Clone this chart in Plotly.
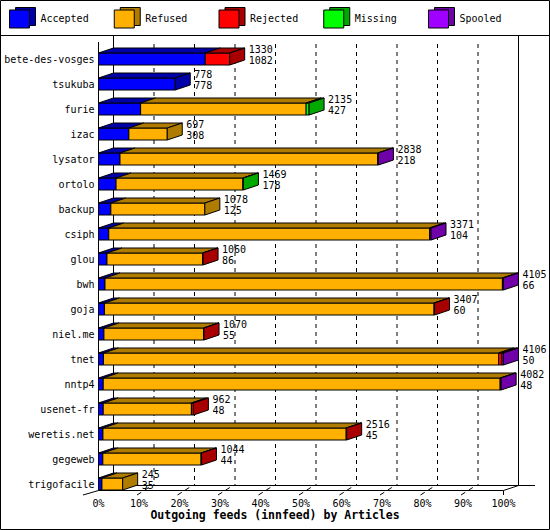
import plotly.graph_objects as go

# ---------------- data ----------------
hosts = ["bete-des-vosges", "tsukuba", "furie", "izac", "lysator", "ortolo", "backup",
         "csiph", "glou", "bwh", "goja", "niel.me", "tnet", "nntp4", "usenet-fr",
         "weretis.net", "gegeweb", "trigofacile"]
totals = [1330, 778, 2135, 697, 2838, 1469, 1078, 3371, 1060, 4105, 3407, 1070,
          4106, 4082, 962, 2516, 1044, 245]
accepted = [1082, 778, 427, 308, 218, 178, 125, 104, 86, 66, 60, 55, 50, 48, 48, 45, 44, 35]
refused = [0, 0, 1678, 389, 2612, 1286, 953, 3252, 970, 4029, 3342, 1010, 4006, 4024, 894, 2466, 996, 210]
rejected = [248, 0, 0, 0, 0, 0, 0, 0, 4, 0, 5, 5, 35, 0, 20, 5, 4, 0]
missing = [0, 0, 30, 0, 0, 5, 0, 0, 0, 0, 0, 0, 0, 0, 0, 0, 0, 0]
spooled = [0, 0, 0, 0, 8, 0, 0, 15, 0, 10, 0, 0, 15, 10, 0, 0, 0, 0]

series_names = ["Accepted", "Refused", "Rejected", "Missing", "Spooled"]
series_values = [accepted, refused, rejected, missing, spooled]
front_colors = ["#0000FF", "#FFB000", "#FF0000", "#00FF00", "#A000FF"]
shade_colors = ["#0000A8", "#B07C00", "#A80000", "#00A800", "#7000A8"]
x_ticks = [0, 10, 20, 30, 40, 50, 60, 70, 80, 90, 100]
x_title = "Outgoing feeds (innfeed) by Articles"

# ---------------- geometry (pixels) ----------------
W, H = 550, 530
X0, PXPCT = 98.5, 4.05      # x pixel of 0 %, pixels per percent
ROW0, ROWH = 59, 25         # y pixel of first bar centre, row pitch
BARH, DXP, DYP = 12, 15, 5  # bar height, 3D depth offsets
FONT = "DejaVu Sans Mono"


def X(px):
    return (px - X0) / PXPCT


def Y(py):
    return (py - ROW0) / ROWH


dx = DXP / PXPCT
dy = DYP / ROWH
hh = BARH / 2 / ROWH
vmax = max(totals)


def pct(v):
    return v / vmax * 100.0


fig = go.Figure()

# ---------------- bars (3D faces) ----------------
faces = {k: {"front": ([], []), "top": ([], []), "side": ([], [])} for k in range(5)}
for i in range(len(hosts)):
    vals = [s[i] for s in series_values]
    last = max(k for k in range(5) if vals[k] > 0)
    cum = 0
    yt, yb = i - hh, i + hh
    for k in range(5):
        if vals[k] <= 0:
            continue
        a, b = pct(cum), pct(cum + vals[k])
        cum += vals[k]
        fx, fy = faces[k]["front"]
        fx += [a, b, b, a, a, None]
        fy += [yt, yt, yb, yb, yt, None]
        tx, ty = faces[k]["top"]
        tx += [a, b, b + dx, a + dx, a, None]
        ty += [yt, yt, yt - dy, yt - dy, yt, None]
        if k == last:
            sx, sy = faces[k]["side"]
            sx += [b, b + dx, b + dx, b, b, None]
            sy += [yt, yt - dy, yb - dy, yb, yt, None]

for face in ["front", "top", "side"]:
    for k in range(5):
        xs, ys = faces[k][face]
        if not xs:
            continue
        fig.add_trace(go.Scatter(
            x=xs, y=ys, mode="lines", fill="toself",
            fillcolor=front_colors[k] if face == "front" else shade_colors[k],
            line=dict(color="black", width=1), hoverinfo="skip",
            showlegend=False, name=series_names[k]))

# ---------------- value labels ----------------
lab_x = [pct(t) + dx + X(X0 + 4) for t in totals]
fig.add_trace(go.Scatter(
    x=lab_x, y=[i - 0.36 for i in range(len(hosts))], mode="text",
    text=[str(t) for t in totals], textposition="middle right",
    textfont=dict(family=FONT, size=10, color="black"),
    hoverinfo="skip", showlegend=False))
fig.add_trace(go.Scatter(
    x=lab_x, y=[i + 0.08 for i in range(len(hosts))], mode="text",
    text=[str(a) for a in accepted], textposition="middle right",
    textfont=dict(family=FONT, size=10, color="black"),
    hoverinfo="skip", showlegend=False))

# ---------------- legend (cubes) ----------------
LEG_X0, LEG_STEP = 9.5, 104.75
for k in range(5):
    xl = LEG_X0 + LEG_STEP * k
    x1, x2, x3 = X(xl), X(xl + 20), X(xl + 26)
    x0b = X(xl + 6)
    y1, y2, yb1, yb2 = Y(10), Y(28), Y(7.5), Y(25.5)
    fig.add_trace(go.Scatter(x=[x0b, x3, x3, x0b, x0b], y=[yb1, yb1, yb2, yb2, yb1],
                             mode="lines", fill="toself", fillcolor=shade_colors[k],
                             line=dict(color="black", width=1), hoverinfo="skip", showlegend=False))
    fig.add_trace(go.Scatter(x=[x1, x2, x2, x1, x1], y=[y1, y1, y2, y2, y1],
                             mode="lines", fill="toself", fillcolor=front_colors[k],
                             line=dict(color="black", width=1), hoverinfo="skip", showlegend=False))
    fig.add_trace(go.Scatter(x=[X(xl + 31)], y=[Y(19.5)], mode="text", text=[series_names[k]],
                             textposition="middle right",
                             textfont=dict(family=FONT, size=10, color="black"),
                             hoverinfo="skip", showlegend=False))

# ---------------- frame, walls, grid ----------------
shapes = []
line = dict(color="black", width=1)
shapes.append(dict(type="rect", xref="x", yref="y", x0=X(0.5), x1=X(549.5), y0=Y(0.5), y1=Y(529.5), line=line))
shapes.append(dict(type="line", xref="x", yref="y", x0=X(0), x1=X(550), y0=Y(35.5), y1=Y(35.5), line=line))
wall_top, grid_top, floor_back, floor_front = 36, 44, 485.5, 490.5
for v in x_ticks[1:-1]:
    gx = pct(0) + v + dx
    shapes.append(dict(type="line", xref="x", yref="y", x0=gx, x1=gx, y0=Y(grid_top), y1=Y(floor_back),
                       line=dict(color="black", width=1, dash="4px,4px"), layer="below"))
    shapes.append(dict(type="line", xref="x", yref="y", x0=v + X(X0 - 2), x1=v + X(X0 + 13),
                       y0=Y(495), y1=Y(floor_back),
                       line=dict(color="black", width=1, dash="5px,4px"), layer="below"))
for gx in [dx, 100 + dx]:
    shapes.append(dict(type="line", xref="x", yref="y", x0=gx, x1=gx, y0=Y(wall_top), y1=Y(floor_back),
                       line=line, layer="below"))
shapes.append(dict(type="line", xref="x", yref="y", x0=dx, x1=X(535), y0=Y(floor_back), y1=Y(floor_back),
                   line=line, layer="below"))
shapes.append(dict(type="line", xref="x", yref="y", x0=0, x1=100, y0=Y(floor_front), y1=Y(floor_front), line=line))
shapes.append(dict(type="line", xref="x", yref="y", x0=100, x1=100 + dx, y0=Y(floor_front), y1=Y(floor_back), line=line))
shapes.append(dict(type="line", xref="x", yref="y", x0=100, x1=100, y0=Y(floor_front), y1=Y(495), line=line))
shapes.append(dict(type="line", xref="x", yref="y", x0=X(83), x1=0, y0=Y(495), y1=Y(floor_front), line=line))
shapes.append(dict(type="line", xref="x", yref="y", x0=0, x1=0, y0=Y(42), y1=Y(floor_front), line=line, layer="below"))

fig.update_layout(
    width=W, height=H,
    margin=dict(l=0, r=0, t=0, b=0, autoexpand=False),
    paper_bgcolor="white", plot_bgcolor="white",
    shapes=shapes,
    showlegend=False,
    font=dict(family=FONT, size=10, color="black"),
    xaxis=dict(range=[X(0), X(W)], showgrid=False, zeroline=False, showline=False,
               anchor="free", position=(H - 490.5) / H, automargin=False,
               tickvals=x_ticks, ticktext=[f"{v}%" for v in x_ticks],
               ticks="outside", ticklen=3, tickcolor="rgba(0,0,0,0)",
               tickfont=dict(family=FONT, size=10, color="black"),
               title=dict(text=x_title, standoff=2,
                          font=dict(family=FONT, size=11.5, color="black", weight="bold"))),
    yaxis=dict(range=[Y(H), Y(0)], showgrid=False, zeroline=False, showline=False,
               anchor="free", position=X0 / W, automargin=False,
               tickvals=list(range(len(hosts))), ticktext=hosts,
               ticks="outside", ticklen=2, tickcolor="rgba(0,0,0,0)",
               tickfont=dict(family=FONT, size=10, color="black")),
)

fig.write_html("out.html", config={"displayModeBar": False},
               post_script="document.body.style.margin='0';document.body.style.overflow='hidden';")
